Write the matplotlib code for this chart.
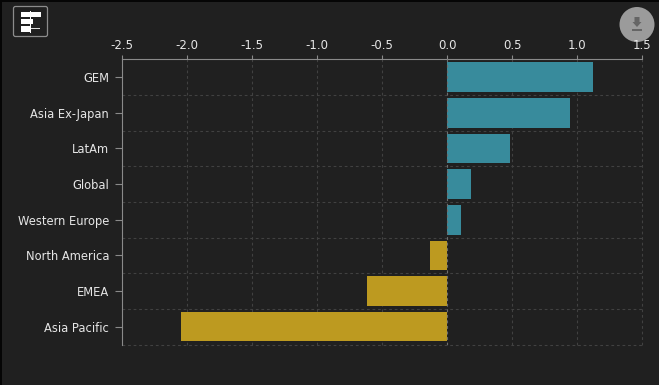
import matplotlib
matplotlib.use("Agg")
import matplotlib.pyplot as plt
from matplotlib.patches import Circle, FancyBboxPatch, Rectangle, Polygon

regions = ["GEM", "Asia Ex-Japan", "LatAm", "Global", "Western Europe",
           "North America", "EMEA", "Asia Pacific"]
values = [1.12, 0.945, 0.48, 0.18, 0.11, -0.13, -0.62, -2.05]
xticks = [-2.5, -2.0, -1.5, -1.0, -0.5, 0.0, 0.5, 1.0, 1.5]

W, H = 659, 385
BG = "#202020"
TEAL = "#388b9c"
GOLD = "#bd9a20"
GRID = "#414141"
AXIS = "#8a8a8a"
TEXT = "#e6e6e6"


def px_rect(x0, y0, x1, y1):
    return [x0 / W, 1 - y1 / H, (x1 - x0) / W, (y1 - y0) / H]


fig = plt.figure(figsize=(W / 100, H / 100), dpi=100, facecolor=BG)
ax = fig.add_axes(px_rect(122, 59.3, 642.3, 344.5), facecolor=BG)

ypos = list(range(len(regions)))
colors = [TEAL if v > 0 else GOLD for v in values]
ax.barh(ypos, values, height=0.83, color=colors, zorder=3)

ax.set_xlim(-2.5, 1.5)
ax.set_ylim(len(regions) - 0.5, -0.5)
ax.xaxis.tick_top()
ax.set_xticks(xticks)
ax.set_xticklabels([f"{t:.1f}" for t in xticks])
ax.set_yticks(ypos)
ax.set_yticklabels(regions)
ax.tick_params(axis="x", length=3, width=0.8, color=AXIS, labelcolor=TEXT,
               labelsize=8.5, pad=2.5)
ax.tick_params(axis="y", length=5, width=0.8, color=AXIS, labelcolor=TEXT,
               labelsize=8.3, pad=4.3)

# grid lines sit on the band edges for y, on the ticks for x
ax.set_yticks([i + 0.5 for i in ypos], minor=True)
ax.tick_params(axis="y", which="minor", length=0)
ax.grid(True, axis="y", which="minor", color=GRID, ls=(0, (2.5, 2.5)), lw=0.8, zorder=1)
ax.grid(True, axis="x", which="major", color=GRID, ls=(0, (2.5, 2.5)), lw=0.8, zorder=1)
for tick in ax.xaxis.get_major_ticks() + ax.yaxis.get_minor_ticks():
    tick.gridline.set_clip_on(False)
ax.axvline(0, color="#6e6e6e", ls=(0, (2.5, 2.5)), lw=0.8, zorder=4)

for side in ["right", "bottom"]:
    ax.spines[side].set_visible(False)
for side in ["top", "left"]:
    ax.spines[side].set_color(AXIS)
    ax.spines[side].set_linewidth(0.8)

# dark frame at the top and left edge of the screenshot
fig.add_artist(Rectangle((0, 1 - 2 / H), 1, 2 / H, transform=fig.transFigure,
                         color="#050505", lw=0))
fig.add_artist(Rectangle((0, 0), 2 / W, 1, transform=fig.transFigure,
                         color="#050505", lw=0))


def px_artist(patch):
    patch.set_transform(None)
    fig.add_artist(patch)


def fy(y):
    return H - y


# toolbar button
px_artist(FancyBboxPatch((13.5, fy(36.5)), 34, 30, boxstyle="round,pad=0,rounding_size=2",
                         fc="none", ec="#8c8c8c", lw=0.9))
for x0, y0, x1, y1 in [(21, 12, 41, 17), (21, 19, 33, 24), (21, 26, 30, 32)]:
    px_artist(Rectangle((x0, fy(y1)), x1 - x0, y1 - y0, fc="white", lw=0))
px_artist(Rectangle((30, fy(29)), 10, 1, fc="#dddddd", lw=0))
px_artist(Rectangle((29.5, fy(33)), 1.5, 22, fc="white", lw=0))

# download button, drawn under the axes so the 1.5 label stays on top
px_artist(Circle((637, fy(24.5)), 17.5, fc="#9b9b9b", lw=0, zorder=-1))
px_artist(Polygon([(634.5, fy(17)), (639.5, fy(17)), (639.5, fy(22)), (641.5, fy(22)),
                   (637, fy(27)), (632.5, fy(22)), (634.5, fy(22))],
                  fc="#656565", lw=0, zorder=-1))
px_artist(Rectangle((632, fy(31)), 9.5, 1.6, fc="#656565", lw=0, zorder=-1))

fig.savefig("out.png", dpi=100, facecolor=BG)
